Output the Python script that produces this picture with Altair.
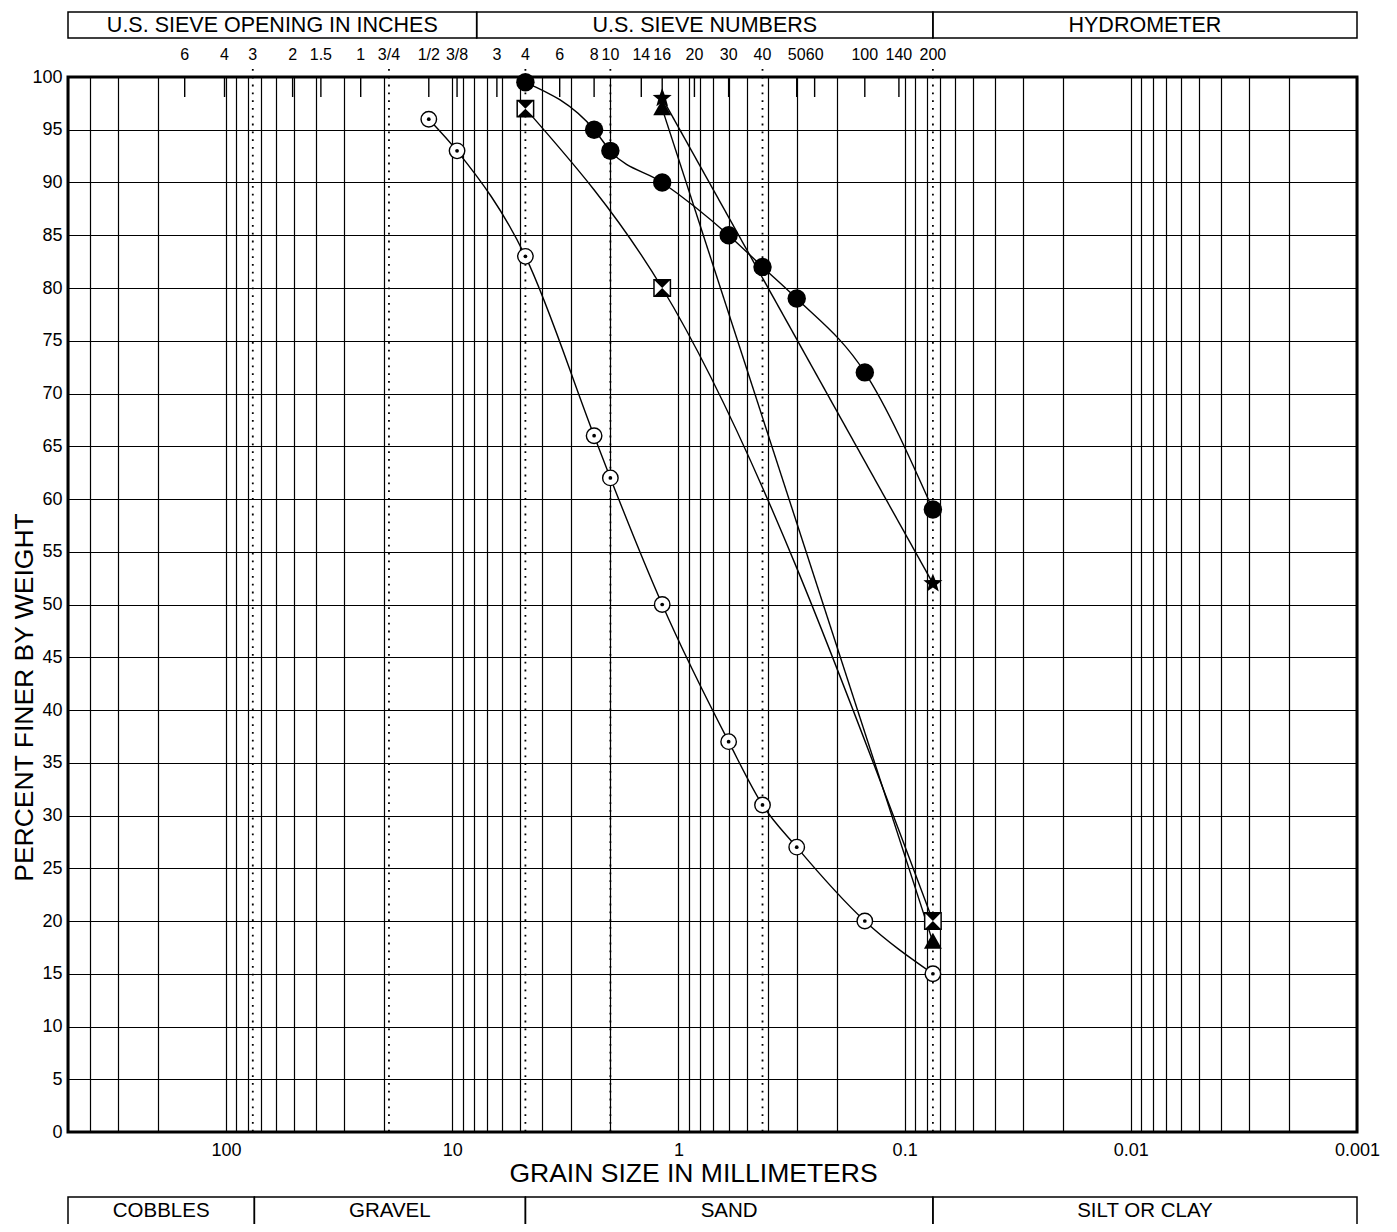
import math
import altair as alt
import pandas as pd

# ---------------- data (grain size in mm, percent finer by weight) ----------------
open_size = [12.7, 9.525, 4.75, 2.36, 2.0, 1.18, 0.6, 0.425, 0.3, 0.15, 0.075]
open_pct = [96, 93, 83, 66, 62, 50, 37, 31, 27, 20, 15]

filled_size = [4.75, 2.36, 2.0, 1.18, 0.6, 0.425, 0.3, 0.15, 0.075]
filled_pct = [99.5, 95, 93, 90, 85, 82, 79, 72, 59]

bowtie_size = [4.75, 1.18, 0.075]
bowtie_pct = [97, 80, 20]

tri_size = [1.18, 0.075]
tri_pct = [97, 18]

star_size = [1.18, 0.075]
star_pct = [98, 52]

# sieve scale along the top
inch_labels = ["6", "4", "3", "2", "1.5", "1", "3/4", "1/2", "3/8"]
inch_sizes = [152.4, 101.6, 76.2, 50.8, 38.1, 25.4, 19.05, 12.7, 9.525]
number_labels = ["3", "4", "6", "8", "10", "14", "16", "20", "30", "40", "50", "60", "100", "140", "200"]
number_sizes = [6.35, 4.75, 3.35, 2.36, 2.0, 1.46, 1.18, 0.85, 0.6, 0.425, 0.3, 0.25, 0.15, 0.106, 0.075]
dotted_sizes = [76.2, 19.05, 4.75, 2.0, 0.425, 0.075]

# header / footer tables
top_bounds = [500, 7.8, 0.075, 0.001]
top_labels = ["U.S. SIEVE OPENING IN INCHES", "U.S. SIEVE NUMBERS", "HYDROMETER"]
bottom_bounds = [500, 75, 4.75, 0.075, 0.001]
bottom_labels = ["COBBLES", "GRAVEL", "SAND", "SILT OR CLAY"]

decade_labels = ["100", "10", "1", "0.1", "0.01", "0.001"]
decades = [100, 10, 1, 0.1, 0.01, 0.001]
grid_vals = [round(k * d, 6) for d in decades for k in range(1, 10) if k * d <= 500]
y_vals = list(range(0, 101, 5))

W, H = 1289, 1055
FONT = "Liberation Sans"

# ---------------- frames ----------------
def series_df(sizes, pcts):
    return pd.DataFrame({"size": sizes, "pct": pcts, "idx": list(range(len(sizes)))})

df_open = series_df(open_size, open_pct)
df_filled = series_df(filled_size, filled_pct)
df_bow = series_df(bowtie_size, bowtie_pct)
df_tri = series_df(tri_size, tri_pct)
df_star = series_df(star_size, star_pct)

sieve_df = pd.DataFrame({
    "size": inch_sizes + number_sizes,
    "label": inch_labels + number_labels,
})
tick_df = sieve_df[~sieve_df["size"].isin(dotted_sizes)]
dot_df = pd.DataFrame({"size": dotted_sizes})

def table_df(bounds, labels):
    return pd.DataFrame({
        "size": bounds[:-1],
        "size2": bounds[1:],
        "mid": [(a * b) ** 0.5 for a, b in zip(bounds[:-1], bounds[1:])],
        "label": labels,
    })

top_df = table_df(top_bounds, top_labels)
bot_df = table_df(bottom_bounds, bottom_labels)

xscale = alt.Scale(type="log", domain=[0.001, 500], reverse=True, nice=False)
yscale = alt.Scale(domain=[0, 100], nice=False, zero=False)

label_expr = "indexof(" + str(decade_labels).replace('"', "'") + ", toString(datum.value)) >= 0 ? toString(datum.value) : ''"

X_TITLE = "GRAIN SIZE IN MILLIMETERS"
Y_TITLE = "PERCENT FINER BY WEIGHT"

x_axis = alt.Axis(
    values=grid_vals, grid=True, gridColor="black", gridWidth=1.2, gridOpacity=1,
    ticks=False, domain=False, labelExpr=label_expr, labelFontSize=18,
    labelPadding=9, labelOverlap=False, labelFlush=False, labelBound=False,
    labelColor="black", titleFontSize=26.5,
    titleFontWeight="normal", titleColor="black", titleX=625, titleY=41,
    titleBaseline="middle", titleAlign="center",
)
y_axis = alt.Axis(
    values=y_vals, grid=True, gridColor="black", gridWidth=1.2, gridOpacity=1,
    ticks=False, domain=False, labelFontSize=18, labelPadding=6,
    labelColor="black", titleFontSize=26.5,
    titleFontWeight="normal", titleColor="black", titleX=-44, titleY=620,
    titleBaseline="middle", titleAlign="center", titleAngle=270,
)


def X(f="size"):
    return alt.X(f + ":Q", scale=xscale, axis=x_axis, title=X_TITLE)


def Y():
    return alt.Y("pct:Q", scale=yscale, axis=y_axis, title=Y_TITLE)


dotted = alt.Chart(dot_df).mark_rule(color="black", strokeWidth=1.8, strokeDash=[1.8, 6]).encode(
    x=X(), y=alt.value(-8), y2=alt.value(H)
)
ticks = alt.Chart(tick_df).mark_rule(color="black", strokeWidth=1.4).encode(
    x=X(), y=alt.value(0), y2=alt.value(20)
)
sieve_text = alt.Chart(sieve_df).mark_text(fontSize=16, font=FONT, color="black", baseline="middle").encode(
    x=X(), y=alt.value(-22), text="label:N"
)


def table(df, y0, y1, ytext, fs):
    box = alt.Chart(df).mark_rect(fill="white", fillOpacity=0, stroke="black", strokeWidth=1.5).encode(
        x=X(), x2=alt.X2("size2:Q"), y=alt.value(y0), y2=alt.value(y1)
    )
    txt = alt.Chart(df).mark_text(fontSize=fs, font=FONT, color="black", baseline="middle").encode(
        x=X("mid"), y=alt.value(ytext), text="label:N"
    )
    return box + txt


top_table = table(top_df, -65, -39, -51, 21.5)
bot_table = table(bot_df, H + 65, H + 130, H + 79, 20.5)


def line(df):
    return alt.Chart(df).mark_line(color="black", strokeWidth=1.4, interpolate="monotone").encode(
        x=X(), y=Y(), order=alt.Order("idx:Q")
    )


lines = line(df_open) + line(df_filled) + line(df_bow) + line(df_tri) + line(df_star)

# marker glyphs (unit-square SVG paths)
BOWTIE = "M-1,-1L1,-1L0,0ZM-1,1L1,1L0,0Z"
SQUARE = "M-1,-1L1,-1L1,1L-1,1Z"
TRIANGLE = "M0,-1.05L1,0.75L-1,0.75Z"
star_pts_xy = []
for k in range(10):
    r = 1.0 if k % 2 == 0 else 0.42
    a = math.radians(-90 + 36 * k)
    star_pts_xy.append(f"{r * math.cos(a):.3f},{r * math.sin(a):.3f}")
STAR = "M" + "L".join(star_pts_xy) + "Z"

open_pts = alt.Chart(df_open).mark_point(shape="circle", size=240, filled=True, fill="white",
                                          stroke="black", strokeWidth=1.4, opacity=1).encode(x=X(), y=Y())
open_dots = alt.Chart(df_open).mark_point(shape="circle", size=14, filled=True, color="black", opacity=1).encode(x=X(), y=Y())
filled_pts = alt.Chart(df_filled).mark_point(shape="circle", size=340, filled=True, color="black", opacity=1).encode(x=X(), y=Y())
bow_box = alt.Chart(df_bow).mark_point(shape=SQUARE, size=270, filled=True, fill="white",
                                        stroke="black", strokeWidth=1.5, opacity=1).encode(x=X(), y=Y())
bow_fill = alt.Chart(df_bow).mark_point(shape=BOWTIE, size=270, filled=True,
                                         color="black", opacity=1).encode(x=X(), y=Y())
star_pts = alt.Chart(df_star).mark_point(shape=STAR, size=400, filled=True, color="black", opacity=1).encode(x=X(), y=Y())
tri_pts = alt.Chart(df_tri).mark_point(shape=TRIANGLE, size=320, filled=True, color="black", opacity=1).encode(x=X(), y=Y())

chart = alt.layer(
    dotted, ticks, sieve_text, top_table, bot_table, lines,
    open_pts, open_dots, filled_pts, bow_box, bow_fill, star_pts, tri_pts,
).properties(
    width=W, height=H,
    autosize=alt.AutoSizeParams(type="none"),
    padding={"left": 60, "top": 69, "right": 28, "bottom": 92},
    background="white",
).configure(
    font=FONT,
    view=alt.ViewConfig(stroke="black", strokeWidth=3),
)

chart.save("out.html", embed_options={"renderer": "svg", "actions": False})
